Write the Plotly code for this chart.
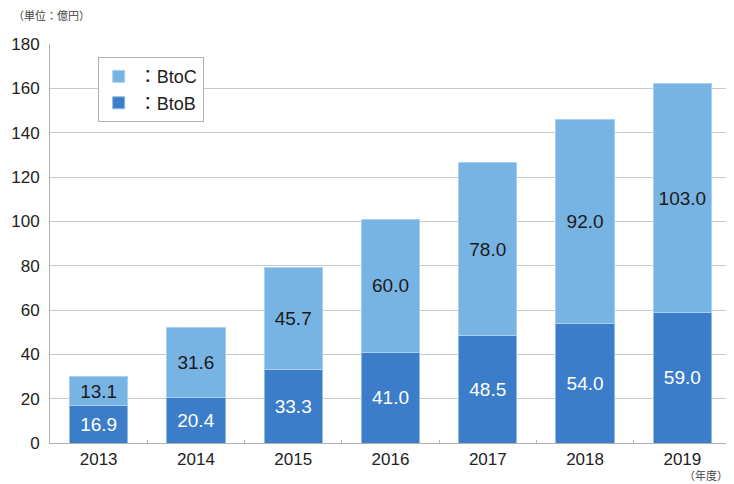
import plotly.graph_objects as go

years = ["2013", "2014", "2015", "2016", "2017", "2018", "2019"]
btob = [16.9, 20.4, 33.3, 41.0, 48.5, 54.0, 59.0]
btoc = [13.1, 31.6, 45.7, 60.0, 78.0, 92.0, 103.0]
y_ticks = [0, 20, 40, 60, 80, 100, 120, 140, 160, 180]

font = "Liberation Sans, Arial, Noto Sans CJK JP, sans-serif"

fig = go.Figure()
fig.add_trace(go.Bar(
    x=years, y=btob, name="：BtoB",
    marker=dict(color="#3b7dc8", line=dict(color="#8fbbe6", width=1)),
    text=[f"{v:.1f}" for v in btob], textposition="inside",
    insidetextanchor="middle",
    textfont=dict(color="white", size=19, family=font),
))
fig.add_trace(go.Bar(
    x=years, y=btoc, name="：BtoC",
    marker=dict(color="#78b4e3", line=dict(color="#a9d0ef", width=1)),
    text=[f"{v:.1f}" for v in btoc], textposition="inside",
    insidetextanchor="middle",
    textfont=dict(color="#1a1a1a", size=19, family=font),
))

fig.update_layout(
    barmode="stack",
    bargap=0.4,
    width=726, height=476,
    margin=dict(l=39, r=3, t=36, b=41),
    paper_bgcolor="white", plot_bgcolor="white",
    font=dict(family=font, color="#222222", size=16),
    uniformtext=dict(minsize=10, mode="show"),
    legend=dict(
        x=0.07, y=0.967, xanchor="left", yanchor="top",
        traceorder="reversed",
        bordercolor="#b0b0b0", borderwidth=1, bgcolor="white",
        font=dict(size=18, family=font, color="#222222"),
        itemwidth=30, tracegroupgap=0,
    ),
    xaxis=dict(
        showgrid=False, showline=True, linecolor="#b0b0b0",
        ticks="inside", tickcolor="#b0b0b0", ticklen=3,
        tickson="boundaries", tickfont=dict(size=17, color="#222222"),
        ticklabelstandoff=1,
    ),
    yaxis=dict(
        range=[0, 180], tickvals=y_ticks, showgrid=True,
        gridcolor="#c8c8c8", gridwidth=1, showline=True,
        linecolor="#b0b0b0", zeroline=False,
        tickfont=dict(size=17, color="#222222"), ticks="",
        ticklabelstandoff=6,
    ),
    annotations=[
        dict(text="（単位：億円）", xref="paper", yref="paper",
             x=-0.058, y=1 + 29 / 399, xanchor="left", yanchor="middle",
             showarrow=False, font=dict(size=11, color="#444444",
                                         family="Noto Sans CJK JP")),
        dict(text="（年度）", xref="paper", yref="paper",
             x=0.998, y=-32 / 399, xanchor="right", yanchor="middle",
             showarrow=False, font=dict(size=11, color="#444444",
                                         family="Noto Sans CJK JP")),
    ],
)
fig.add_shape(type="line", xref="paper", yref="y", x0=1, x1=1, y0=0, y1=180,
              line=dict(color="#c8c8c8", width=1))

fig.write_html("out.html")
